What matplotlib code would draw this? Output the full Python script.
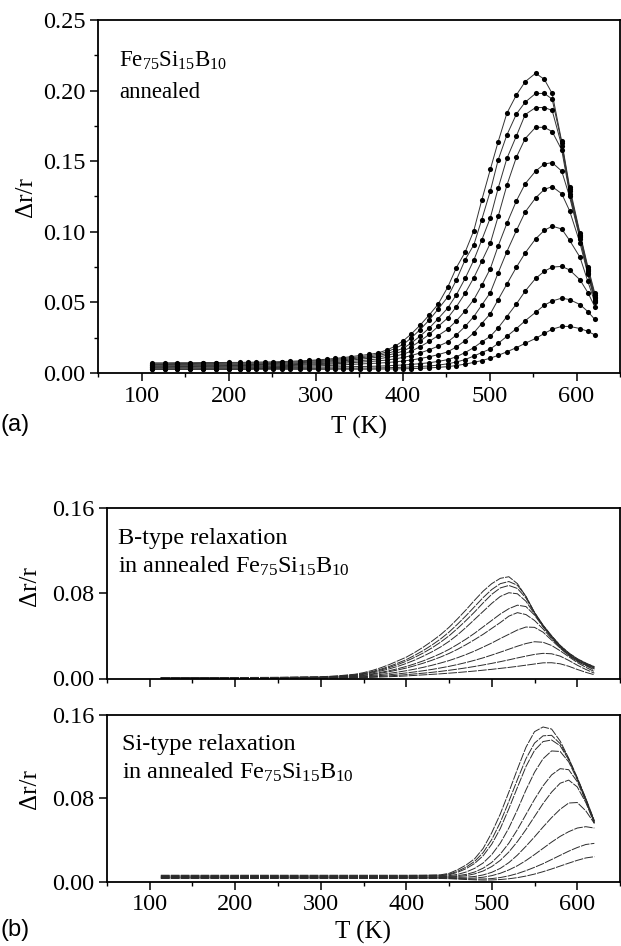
import matplotlib
matplotlib.use("Agg")
import matplotlib.pyplot as plt
from matplotlib.ticker import MultipleLocator, FormatStrFormatter

# all resistance values below are in units of 1e-3 (delta r / r)
SCALE = 1e-3

# ---- panel (a): measured points + fitted lines, annealed Fe75Si15B10 ----
t_a = [112, 127, 141, 156, 171, 186, 200, 213, 222, 232, 242, 251, 261, 271, 282, 292,
       303, 313, 322, 332, 341, 351, 362, 372, 382, 391, 401, 410, 420, 431, 441, 452,
       462, 472, 482, 491, 501, 510, 520, 531, 541, 553, 563, 572, 583, 592, 604, 613, 621]

a1 = [7.2, 7.2, 7.3, 7.3, 7.4, 7.4, 7.5, 7.5, 7.6, 7.7, 7.8, 7.9, 8.1, 8.3, 8.6, 8.9,
      9.3, 9.8, 10.3, 10.9, 11.6, 12.4, 13.2, 14.2, 16.3, 18.8, 22.9, 27.6, 33.7, 41.3,
      48.8, 60.8, 74.7, 85.6, 100.9, 122.2, 144.3, 163.9, 184.0, 197.0, 206.3, 212.3,
      208.0, 198.0, 164.0, 132.0, 99.0, 75.4, 56.6]
a2 = [6.6, 6.6, 6.7, 6.7, 6.8, 6.8, 6.9, 6.9, 7.0, 7.1, 7.2, 7.3, 7.5, 7.7, 8.0, 8.3,
      8.7, 9.1, 9.6, 10.2, 10.8, 11.5, 12.3, 13.2, 15.0, 17.3, 20.3, 24.8, 30.6, 37.7,
      45.3, 53.8, 66.0, 80.2, 90.8, 108.5, 129.0, 151.0, 168.6, 183.5, 191.8, 198.0,
      198.0, 194.0, 163.0, 130.0, 98.0, 74.0, 55.0]
a3 = [6.0, 6.0, 6.1, 6.1, 6.2, 6.2, 6.3, 6.3, 6.4, 6.5, 6.6, 6.7, 6.9, 7.1, 7.3, 7.6,
      8.0, 8.4, 8.9, 9.4, 10.0, 10.7, 11.4, 12.3, 13.8, 15.4, 17.5, 21.2, 26.0, 32.0,
      38.5, 46.0, 55.5, 67.0, 80.0, 94.0, 110.0, 131.0, 152.0, 168.0, 183.0, 188.0,
      188.0, 186.0, 161.0, 129.0, 97.0, 73.0, 54.0]
a4 = [5.5, 5.5, 5.6, 5.6, 5.7, 5.7, 5.8, 5.8, 5.9, 6.0, 6.1, 6.2, 6.3, 6.5, 6.7, 7.0,
      7.3, 7.7, 8.1, 8.6, 9.2, 9.8, 10.5, 11.3, 12.5, 13.8, 15.5, 18.5, 22.5, 27.5,
      33.0, 39.0, 47.0, 56.5, 67.5, 79.0, 92.0, 111.0, 133.0, 153.0, 166.0, 174.0,
      174.0, 171.0, 158.0, 127.0, 96.0, 72.0, 53.0]
a5 = [5.0, 5.0, 5.1, 5.1, 5.2, 5.2, 5.3, 5.3, 5.4, 5.5, 5.6, 5.7, 5.8, 5.9, 6.1, 6.3,
      6.6, 6.9, 7.3, 7.7, 8.2, 8.7, 9.3, 10.0, 11.0, 12.0, 13.3, 15.5, 18.5, 22.5,
      26.5, 31.0, 37.0, 44.0, 52.0, 62.0, 74.0, 90.0, 106.0, 122.0, 134.0, 143.0,
      148.0, 149.0, 143.0, 125.0, 95.0, 71.0, 52.0]
a6 = [4.5, 4.5, 4.6, 4.6, 4.7, 4.7, 4.8, 4.8, 4.9, 5.0, 5.0, 5.1, 5.2, 5.3, 5.5, 5.7,
      5.9, 6.2, 6.5, 6.9, 7.3, 7.7, 8.1, 8.6, 9.2, 10.0, 11.0, 12.3, 14.2, 16.5,
      19.0, 22.0, 27.0, 33.0, 40.0, 48.0, 57.0, 71.0, 86.0, 101.0, 114.0, 124.0,
      130.0, 132.0, 127.0, 115.0, 92.0, 70.0, 51.0]
a7 = [4.0, 4.0, 4.1, 4.1, 4.2, 4.2, 4.3, 4.3, 4.4, 4.4, 4.5, 4.5, 4.6, 4.7, 4.8, 4.9,
      5.1, 5.3, 5.5, 5.8, 6.1, 6.4, 6.7, 7.0, 7.4, 7.9, 8.5, 9.2, 10.2, 11.5,
      13.0, 15.0, 18.5, 23.0, 28.5, 35.0, 42.0, 52.0, 63.0, 75.0, 85.0, 95.0,
      101.0, 104.0, 102.0, 94.0, 82.0, 65.0, 50.0]
a8 = [3.5, 3.5, 3.6, 3.6, 3.6, 3.7, 3.7, 3.7, 3.8, 3.8, 3.8, 3.9, 3.9, 4.0, 4.0, 4.1,
      4.2, 4.2, 4.3, 4.4, 4.5, 4.6, 4.7, 4.9, 5.1, 5.4, 5.7, 6.1, 6.6, 7.3,
      8.2, 9.5, 11.5, 14.5, 18.0, 22.0, 26.0, 32.0, 40.0, 49.0, 58.0, 67.0,
      72.0, 75.0, 75.5, 73.0, 66.0, 57.0, 47.0]
a9 = [3.0, 3.0, 3.0, 3.0, 3.1, 3.1, 3.1, 3.1, 3.1, 3.2, 3.2, 3.2, 3.2, 3.3, 3.3, 3.3,
      3.3, 3.4, 3.4, 3.4, 3.4, 3.5, 3.5, 3.6, 3.7, 3.9, 4.1, 4.3, 4.6, 5.0,
      5.6, 6.5, 7.8, 9.5, 12.0, 14.5, 17.0, 21.0, 26.0, 31.5, 37.0, 43.0,
      48.0, 51.0, 53.0, 52.0, 48.5, 43.5, 38.0]
a10 = [2.5, 2.5, 2.5, 2.5, 2.5, 2.5, 2.5, 2.5, 2.5, 2.6, 2.6, 2.6, 2.6, 2.6, 2.6, 2.6,
       2.6, 2.6, 2.7, 2.7, 2.7, 2.7, 2.7, 2.8, 2.8, 2.9, 3.0, 3.1, 3.3, 3.6,
       4.0, 4.5, 5.3, 6.3, 7.5, 8.8, 10.5, 12.5, 15.0, 18.0, 21.0, 24.5,
       28.0, 31.0, 33.0, 33.0, 31.5, 29.5, 27.0]

# ---- panel (b) top: B-type relaxation ----
t_b = [113, 150, 200, 250, 300, 320, 340, 350, 360, 370, 380, 390, 400, 410, 420, 430,
       440, 450, 460, 470, 480, 490, 500, 510, 520, 530, 540, 550, 560, 570, 580, 590,
       600, 610, 620]

b1 = [0.8, 0.8, 0.9, 1.1, 1.6, 2.5, 4.0, 5.5, 7.5, 10.0, 13.0, 16.5, 20.0, 24.5, 29.5,
      35.0, 41.0, 48.0, 56.0, 64.5, 73.5, 82.0, 89.0, 94.0, 95.5, 89.0, 77.0, 62.0, 50.0,
      40.0, 31.0, 24.0, 18.5, 14.5, 11.0]
b2 = [0.7, 0.7, 0.8, 1.0, 1.4, 2.2, 3.5, 4.8, 6.5, 8.7, 11.3, 14.4, 17.7, 21.8, 26.3,
      31.4, 37.0, 43.5, 51.0, 59.0, 67.5, 76.0, 83.5, 89.0, 91.0, 87.5, 77.0, 62.0, 50.0,
      40.0, 31.0, 24.0, 18.5, 14.3, 11.0]
b3 = [0.7, 0.7, 0.8, 0.9, 1.3, 2.0, 3.2, 4.4, 5.9, 7.9, 10.3, 13.1, 16.2, 19.9, 24.0,
      28.7, 34.0, 40.0, 47.0, 54.5, 62.5, 71.0, 79.0, 85.0, 87.3, 84.5, 75.5, 61.5, 49.5,
      39.5, 30.5, 23.5, 18.0, 14.0, 10.5]
b4 = [0.6, 0.6, 0.7, 0.8, 1.2, 1.8, 2.8, 3.9, 5.2, 7.0, 9.0, 11.4, 14.1, 17.3, 21.0,
      25.0, 29.5, 34.8, 41.0, 48.0, 55.5, 63.0, 70.5, 77.0, 80.5, 79.5, 72.5, 60.5, 49.0,
      39.0, 30.0, 23.0, 17.5, 13.5, 10.0]
b5 = [0.6, 0.6, 0.6, 0.7, 1.0, 1.5, 2.3, 3.2, 4.3, 5.7, 7.3, 9.2, 11.3, 13.8, 16.6,
      19.8, 23.3, 27.3, 32.0, 37.0, 42.5, 48.5, 54.5, 60.5, 65.5, 68.8, 67.5, 59.5, 48.5,
      38.5, 29.5, 22.5, 17.0, 13.0, 9.5]
b6 = [0.5, 0.5, 0.6, 0.7, 0.9, 1.3, 2.0, 2.8, 3.8, 5.0, 6.4, 8.0, 9.8, 12.0, 14.4,
      17.1, 20.1, 23.5, 27.4, 31.8, 36.5, 41.5, 47.0, 52.5, 58.5, 61.8, 60.0, 54.5, 46.5,
      37.5, 29.0, 22.0, 16.5, 12.5, 9.0]
b7 = [0.5, 0.5, 0.5, 0.6, 0.8, 1.1, 1.6, 2.2, 2.9, 3.8, 4.8, 6.0, 7.3, 8.8, 10.5,
      12.4, 14.5, 16.8, 19.5, 22.5, 25.8, 29.5, 33.3, 37.5, 41.5, 45.5, 48.3, 48.0, 43.5,
      36.0, 28.5, 21.5, 16.0, 12.0, 8.0]
b8 = [0.4, 0.4, 0.5, 0.5, 0.7, 0.9, 1.3, 1.7, 2.2, 2.8, 3.5, 4.3, 5.2, 6.2, 7.3,
      8.5, 9.9, 11.4, 13.1, 15.0, 17.1, 19.4, 22.0, 24.7, 27.5, 30.3, 32.8, 34.5, 34.0,
      31.0, 26.0, 20.5, 15.0, 10.5, 6.5]
b9 = [0.3, 0.3, 0.4, 0.4, 0.5, 0.7, 1.0, 1.3, 1.6, 2.0, 2.5, 3.0, 3.6, 4.3, 5.0,
      5.8, 6.7, 7.7, 8.8, 10.0, 11.3, 12.7, 14.2, 15.8, 17.5, 19.3, 21.0, 22.6, 23.6,
      23.2, 21.0, 17.0, 12.5, 8.5, 5.0]
b10 = [0.3, 0.3, 0.3, 0.3, 0.4, 0.5, 0.7, 0.9, 1.1, 1.4, 1.7, 2.0, 2.4, 2.9, 3.4,
       3.9, 4.4, 5.0, 5.6, 6.3, 7.0, 7.8, 8.6, 9.5, 10.4, 11.4, 12.5, 13.6, 14.7,
       14.8, 13.8, 11.5, 8.5, 5.8, 3.5]

# ---- panel (b) bottom: Si-type relaxation ----
t_s = [113, 150, 200, 250, 300, 350, 400, 420, 440, 450, 460, 470, 480, 490, 500, 510,
       520, 530, 540, 550, 560, 570, 580, 590, 600, 610, 620]

s1 = [6.2, 6.2, 6.2, 6.2, 6.2, 6.2, 6.2, 6.3, 6.6, 8.0, 11.5, 16.0, 22.0, 32.0, 47.0,
      65.0, 86.0, 108.0, 129.0, 144.0, 148.5, 146.5, 135.0, 118.5, 100.0, 80.0, 58.5]
s2 = [5.8, 5.8, 5.8, 5.8, 5.8, 5.8, 5.8, 5.9, 6.1, 7.2, 10.0, 14.0, 19.5, 28.0, 40.5,
      57.0, 77.0, 98.0, 118.0, 133.0, 140.0, 140.5, 132.5, 118.0, 99.5, 79.5, 58.0]
s3 = [5.4, 5.4, 5.4, 5.4, 5.4, 5.4, 5.4, 5.5, 5.7, 6.6, 9.0, 12.5, 17.5, 25.0, 36.0,
      51.0, 70.0, 90.5, 110.5, 126.0, 134.5, 136.0, 130.5, 117.0, 99.0, 79.0, 57.5]
s4 = [5.0, 5.0, 5.0, 5.0, 5.0, 5.0, 5.0, 5.1, 5.3, 5.8, 7.0, 9.3, 12.8, 18.0, 26.0,
      37.0, 51.5, 69.0, 88.0, 105.0, 118.0, 125.5, 125.0, 115.0, 98.0, 78.5, 57.0]
s5 = [4.6, 4.6, 4.6, 4.6, 4.6, 4.6, 4.6, 4.7, 4.8, 5.1, 5.8, 7.0, 9.3, 13.0, 18.5,
      26.5, 37.0, 50.0, 64.5, 79.0, 92.0, 102.5, 108.5, 107.5, 96.0, 77.5, 56.5]
s6 = [4.3, 4.3, 4.3, 4.3, 4.3, 4.3, 4.3, 4.3, 4.4, 4.6, 5.0, 5.8, 7.5, 10.3, 14.5,
      20.5, 28.5, 38.5, 50.0, 62.5, 75.0, 86.0, 94.5, 97.5, 91.0, 76.0, 56.0]
s7 = [4.0, 4.0, 4.0, 4.0, 4.0, 4.0, 4.0, 4.0, 4.1, 4.2, 4.2, 4.4, 5.0, 6.5, 9.0,
      12.8, 18.3, 25.5, 34.0, 43.0, 52.5, 61.5, 69.5, 75.5, 76.0, 68.0, 56.0]
s8 = [3.7, 3.7, 3.7, 3.7, 3.7, 3.7, 3.7, 3.7, 3.7, 3.7, 3.5, 3.3, 3.5, 4.3, 5.8,
      8.1, 11.3, 15.3, 20.3, 26.0, 32.0, 38.0, 43.5, 48.0, 51.5, 52.8, 51.5]
s9 = [3.4, 3.4, 3.4, 3.4, 3.4, 3.4, 3.4, 3.4, 3.4, 3.3, 3.0, 2.7, 2.5, 2.6, 3.0,
      4.0, 5.6, 7.8, 10.6, 13.8, 17.3, 21.3, 25.3, 29.3, 32.8, 35.7, 36.8]
s10 = [3.1, 3.1, 3.1, 3.1, 3.1, 3.1, 3.1, 3.1, 3.1, 2.9, 2.5, 2.1, 1.8, 1.6, 1.7,
       2.1, 2.8, 3.9, 5.4, 7.3, 9.6, 12.2, 15.0, 17.8, 20.5, 22.8, 24.0]

FIG_W, FIG_H = 621, 946
SERIF = ["Liberation Serif", "DejaVu Serif"]
SANS = ["Liberation Sans", "DejaVu Sans"]
COMPOUND = r"Fe$_{\mathrm{75}}$Si$_{\mathrm{15}}$B$_{\mathrm{10}}$"
TICK_SIZE = 17.5
LABEL_SIZE = 18


def px_rect(left, top, right, bottom):
    return [left / FIG_W, 1 - bottom / FIG_H, (right - left) / FIG_W, (bottom - top) / FIG_H]


def style_axes(ax, ymajor, yminor=None, xlabels=True):
    for sp in ax.spines.values():
        sp.set_linewidth(1.3)
    ax.set_xlim(50, 650)
    ax.xaxis.set_major_locator(MultipleLocator(100))
    ax.xaxis.set_minor_locator(MultipleLocator(50))
    ax.yaxis.set_major_locator(MultipleLocator(ymajor))
    if yminor:
        ax.yaxis.set_minor_locator(MultipleLocator(yminor))
    ax.yaxis.set_major_formatter(FormatStrFormatter("%.2f"))
    ax.tick_params(which="major", direction="out", length=5.5, width=1.1,
                   labelsize=TICK_SIZE, pad=3.5, top=False, right=False)
    ax.tick_params(which="minor", direction="out", length=3, width=1.0,
                   top=False, right=False)
    if not xlabels:
        ax.tick_params(axis="x", labelbottom=False)


def main():
    plt.rcParams["font.family"] = SERIF
    plt.rcParams["mathtext.fontset"] = "custom"
    plt.rcParams["mathtext.rm"] = "Liberation Serif"
    plt.rcParams["mathtext.it"] = "Liberation Serif:italic"

    fig = plt.figure(figsize=(FIG_W / 100, FIG_H / 100), dpi=100)

    # panel (a)
    ax = fig.add_axes(px_rect(98, 20, 620, 373))
    for vals in [a1, a2, a3, a4, a5, a6, a7, a8, a9, a10]:
        y = [v * SCALE for v in vals]
        ax.plot(t_a, y, "-", lw=0.7, color="#333333", zorder=2)
        ax.plot(t_a, y, "o", ms=3.7, mew=0, color="black", zorder=3)
    ax.set_ylim(0, 0.25)
    style_axes(ax, 0.05, 0.025)
    ax.text(0.04, 0.867, COMPOUND, transform=ax.transAxes, fontsize=16.5, va="baseline")
    ax.text(0.04, 0.779, "annealed", transform=ax.transAxes, fontsize=16.5, va="baseline")
    fig.text(26 / FIG_W, 1 - 197 / FIG_H, "\u0394r/r", rotation=90, fontsize=LABEL_SIZE,
             ha="center", va="center")
    fig.text(359 / FIG_W, 1 - 427 / FIG_H, "T (K)", fontsize=LABEL_SIZE,
             ha="center", va="center")
    fig.text(1 / FIG_W, 1 - 425 / FIG_H, "(a)", family=SANS, fontsize=17,
             ha="left", va="center")

    # panel (b) top
    axb = fig.add_axes(px_rect(107, 508, 620, 678.5))
    for vals in [b1, b2, b3, b4, b5, b6, b7, b8, b9, b10]:
        axb.plot(t_b, [v * SCALE for v in vals], lw=0.7, color="#2b2b2b",
                 linestyle=(0, (9, 1.2)))
    axb.set_ylim(0, 0.16)
    style_axes(axb, 0.08, xlabels=False)
    axb.text(0.022, 0.79, "B-type relaxation", transform=axb.transAxes, fontsize=17.5,
             va="baseline")
    axb.text(0.022, 0.62, "in annealed " + COMPOUND, transform=axb.transAxes,
             fontsize=17.5, va="baseline")
    fig.text(30 / FIG_W, 1 - 586 / FIG_H, "\u0394r/r", rotation=90, fontsize=LABEL_SIZE,
             ha="center", va="center")

    # panel (b) bottom
    axs = fig.add_axes(px_rect(107, 715, 620, 881.7))
    for vals in [s1, s2, s3, s4, s5, s6, s7, s8, s9, s10]:
        axs.plot(t_s, [v * SCALE for v in vals], lw=0.7, color="#2b2b2b",
                 linestyle=(0, (9, 1.2)))
    axs.set_ylim(0, 0.16)
    style_axes(axs, 0.08)
    axs.text(0.03, 0.79, "Si-type relaxation", transform=axs.transAxes, fontsize=17.5,
             va="baseline")
    axs.text(0.03, 0.62, "in annealed " + COMPOUND, transform=axs.transAxes,
             fontsize=17.5, va="baseline")
    fig.text(30 / FIG_W, 1 - 789 / FIG_H, "\u0394r/r", rotation=90, fontsize=LABEL_SIZE,
             ha="center", va="center")
    fig.text(363 / FIG_W, 1 - 932 / FIG_H, "T (K)", fontsize=LABEL_SIZE,
             ha="center", va="center")
    fig.text(1 / FIG_W, 1 - 930 / FIG_H, "(b)", family=SANS, fontsize=17,
             ha="left", va="center")

    fig.savefig("out.png", dpi=100)
    plt.close(fig)


if __name__ == "__main__":
    main()
